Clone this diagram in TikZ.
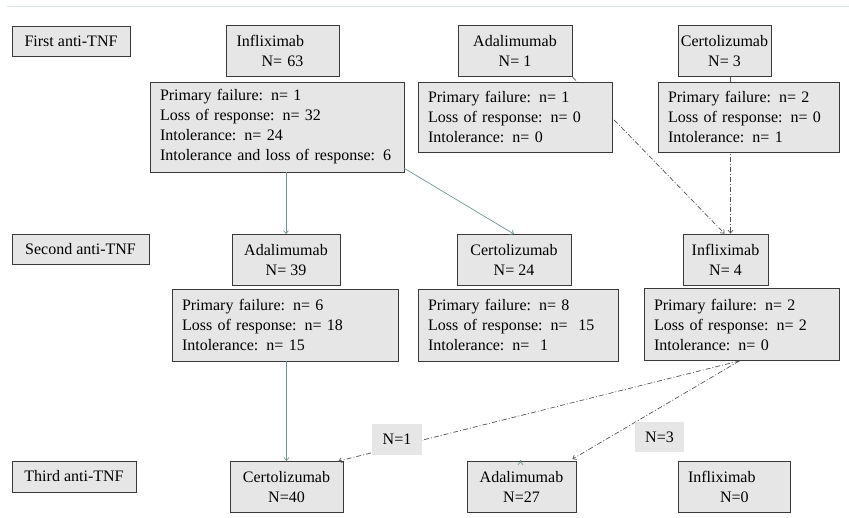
\documentclass[tikz,border=0pt]{standalone}
\usepackage{fontspec}
\setmainfont{Liberation Serif}
\usetikzlibrary{arrows.meta, calc, backgrounds}
\definecolor{boxfill}{HTML}{E6E6E6}
\definecolor{boxline}{HTML}{3A3A3A}
\definecolor{flowteal}{HTML}{6E9696}
\definecolor{switchgray}{HTML}{555555}
\definecolor{rulegray}{HTML}{DCE4E4}

\begin{document}
\begin{tikzpicture}[x=1pt, y=-1pt,
  box/.style={draw=boxline, fill=boxfill, line width=0.8pt, inner sep=0pt,
              font=\fontsize{16}{20}\selectfont},
  level/.style={box, minimum width=#1, minimum height=30pt},
  drug/.style={box, minimum width=#1, minimum height=51pt, align=center},
  drugl/.style={box, inner xsep=10.5pt, text width=#1, minimum height=51pt, align=left},
  info/.style={box, inner xsep=10pt, text width=#1, align=left},
  count/.style={fill=boxfill, inner sep=0pt, minimum width=50pt, minimum height=31pt,
                font=\fontsize{16}{20}\selectfont},
  flow/.style={-{Straight Barb[length=3pt,width=5pt]}, color=flowteal, line width=0.7pt},
  switch/.style={-{Straight Barb[length=3pt,width=5pt]}, color=switchgray, line width=0.7pt,
                 dash pattern=on 5pt off 2pt on 1pt off 2pt}
]
\useasboundingbox (0,0) rectangle (849,518);
\draw[rulegray, line width=1pt] (7,7) -- (849,7);

% Row labels
\node[level=118pt] (lvl1) at (71,41) {First anti-TNF};
\node[level=137pt] (lvl2) at (80.5,249) {Second anti-TNF};
\node[level=124pt, minimum height=31pt] (lvl3) at (74,476.5) {Third anti-TNF};

% First anti-TNF
\node[drugl=92pt] (ifx1) at (282.5,51) {Infliximab\\\hspace*{25pt}N= 63};
\node[drug=114pt] (ada1) at (515,51) {Adalimumab\\N= 1};
\node[drug=93pt] (cer1) at (724.5,51) {Certolizumab\\N= 3};
\node[info=234pt, minimum height=90pt] (ifx1info) at (277,127)
  {Primary failure: n= 1\\Loss of response: n= 32\\Intolerance: n= 24\\Intolerance and loss of response: 6};
\node[info=174pt, minimum height=70pt] (ada1info) at (515,117)
  {Primary failure: n= 1\\Loss of response: n= 0\\Intolerance: n= 0};
\node[info=161pt, minimum height=70pt] (cer1info) at (748.5,117)
  {Primary failure: n= 2\\Loss of response: n= 0\\Intolerance: n= 1};

% Second anti-TNF
\node[drug=108pt] (ada2) at (286,260) {Adalimumab\\N= 39};
\node[drug=114pt] (cer2) at (514,260) {Certolizumab\\N= 24};
\node[drug=85pt] (ifx2) at (725.5,259.5) {Infliximab\\N= 4};
\node[info=206pt, minimum height=72pt] (ada2info) at (285,325)
  {Primary failure: n= 6\\Loss of response: n= 18\\Intolerance: n= 15};
\node[info=180pt, minimum height=72pt] (cer2info) at (518,325)
  {Primary failure: n= 8\\Loss of response: n=~~15\\Intolerance: n=~~1};
\node[info=175pt, minimum height=72pt] (ifx2info) at (741.5,324.5)
  {Primary failure: n= 2\\Loss of response: n= 2\\Intolerance: n= 0};

% Third anti-TNF
\node[drug=113pt] (cer3) at (286.5,487) {Certolizumab\\N=40};
\node[drug=109pt] (ada3) at (521.5,487) {Adalimumab\\N=27};
\node[drugl=92pt, inner xsep=10pt] (ifx3) at (734,487) {Infliximab\\\hspace*{32pt}N=0};

% Switches behind the reason boxes
\begin{scope}[on background layer]
\draw[switch] (ada1.south east) -- ($(ifx2.north)+(-1,0)$);
\draw[switch] ($(cer1.south)+(6,0)$) -- ($(ifx2.north)+(5,0)$);
\end{scope}

% Arrows
\draw[flow] (ada2.north |- ifx1info.south) -- (ada2.north);
\draw[flow] ($(ifx1info.south east)+(0,-4)$) -- (cer2.north);
\draw[flow] (cer3.north |- ada2info.south) -- (cer3.north);
\draw[flow] ($(ada3.north)+(-1,0)$ |- cer2info.south) -- ($(ada3.north)+(-1,0)$);
\draw[switch] ($(ifx2info.south)+(-2,0)$) -- ($(cer3.north east)+(-5,0)$);
\draw[switch] ($(ifx2info.south)+(-2,0)$) -- ($(ada3.north east)+(-4,-2)$);

% Counts
\node[count] (n1) at (397,439.5) {N=1};
\node[count, minimum width=49pt, minimum height=30pt] (n3) at (659.5,437) {N=3};

\end{tikzpicture}
\end{document}
